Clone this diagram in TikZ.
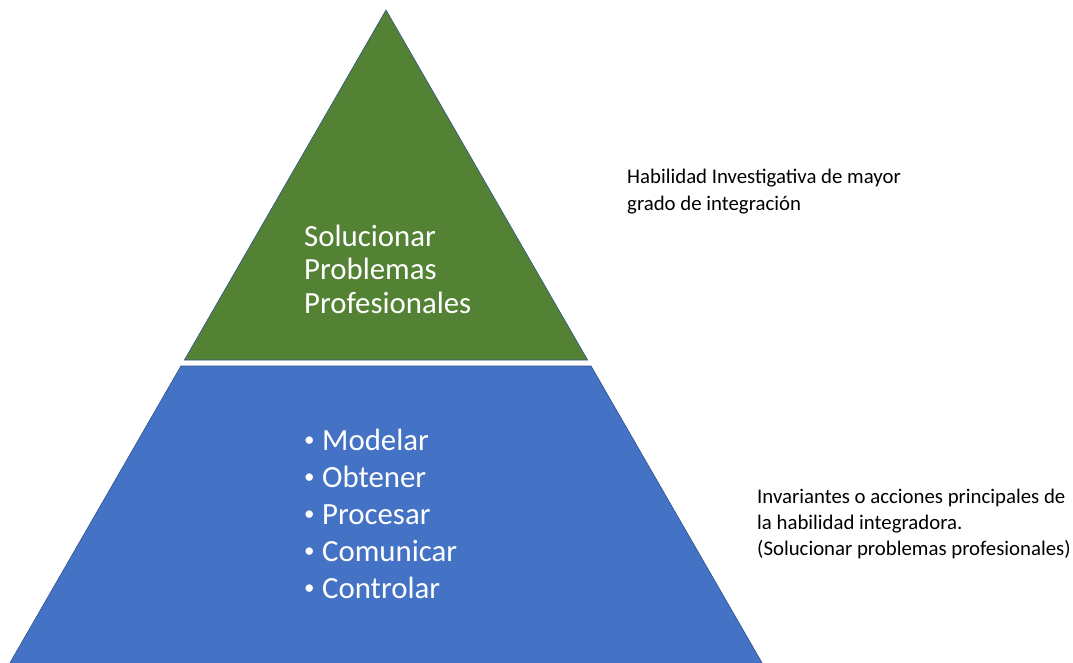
\documentclass[tikz,border=0pt]{standalone}
\usepackage{fontspec}
\setmainfont{Carlito}
\begin{document}
\begin{tikzpicture}[x=1pt,y=-1pt,
  tier/.style={draw=edgeblue,line width=0.6pt,line join=miter},
  inner/.style={text=white,font=\fontsize{30.8}{34}\selectfont,anchor=base west,inner sep=0pt},
  dot/.style={text=white,font=\fontsize{21}{24}\selectfont,anchor=base west,inner sep=0pt},
  note/.style={text=black,font=\fontsize{20.8}{25}\selectfont,anchor=base west,inner sep=0pt}]
\definecolor{topgreen}{HTML}{548235}
\definecolor{basblue}{HTML}{4472C4}
\definecolor{edgeblue}{HTML}{2F528F}
\useasboundingbox (0,0) rectangle (1073,662);
% apex of the pyramid and its side slope
\def\ax{386}\def\ay{10}\def\sl{0.576}
% top tier
\filldraw[tier,fill=topgreen] (\ax,\ay) -- ({\ax+\sl*(360-\ay)},360) -- ({\ax-\sl*(360-\ay)},360) -- cycle;
% lower tier, running off the bottom edge
\begin{scope}
\clip (0,0) rectangle (1073,662);
\filldraw[tier,fill=basblue] ({\ax-\sl*(366-\ay)},366) -- ({\ax+\sl*(366-\ay)},366) -- ({\ax+\sl*(672-\ay)},672) -- ({\ax-\sl*(672-\ay)},672) -- cycle;
\end{scope}
% text of the top tier
\node[inner] (t1) at (304,246) {Solucionar};
\node[inner] (t2) at (304,279.5) {Problemas};
\node[inner] (t3) at (304,313) {Profesionales};
% bullet list of the lower tier
\foreach \w [count=\i] in {Modelar,Obtener,Procesar,Comunicar,Controlar}{
  \node[dot] (b\i) at (304,{450+37*(\i-1)-3.5}) {•};
  \node[inner] (l\i) at (322,{450+37*(\i-1)}) {\w};
}
% side notes
\node[note] (n1) at (627,183.5) {Habilidad Investigativa de mayor};
\node[note] (n2) at (627,210) {grado de integración};
\node[note] (m1) at (757,503) {Invariantes o acciones principales de};
\node[note] (m2) at (757,529) {la habilidad integradora.};
\node[note] (m3) at (757,555) {(Solucionar problemas profesionales)};
\end{tikzpicture}
\end{document}
